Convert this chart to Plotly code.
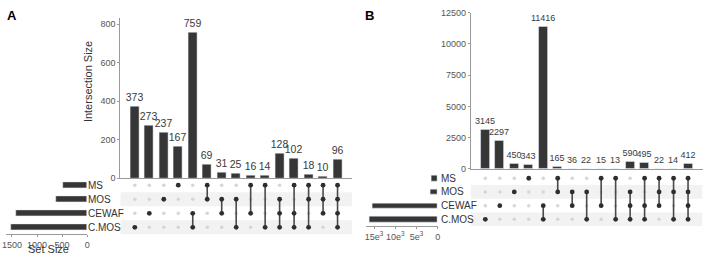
import plotly.graph_objects as go

W, H = 708, 262
FONT = "Liberation Sans, Arial, sans-serif"
DARK = "#363636"
GRID_BAND = "#f2f2f2"
AXC = "#9a9a9a"
TICKC = "#555555"

# ---------------- data ----------------
set_names = ["MS", "MOS", "CEWAF", "C.MOS"]          # top -> bottom in the matrix

members_A = [["C.MOS"], ["CEWAF"], ["MOS"], ["MS"],
             ["CEWAF", "C.MOS"], ["MS", "MOS"], ["MOS", "CEWAF"], ["MOS", "C.MOS"],
             ["MS", "CEWAF"], ["MS", "C.MOS"],
             ["MOS", "CEWAF", "C.MOS"], ["MS", "CEWAF", "C.MOS"], ["MS", "MOS", "C.MOS"],
             ["MS", "MOS", "CEWAF"], ["MS", "MOS", "CEWAF", "C.MOS"]]
sizes_A = [373, 273, 237, 167, 759, 69, 31, 25, 16, 14, 128, 102, 18, 10, 96]
set_size_A = [492, 614, 1415, 1515]
ticks_A_bar = [0, 200, 400, 600, 800]
ticks_A_set = [0, 500, 1000, 1500]
ticklabels_A_set = ["0", "500", "1000", "1500"]

members_B = [["C.MOS"], ["CEWAF"], ["MOS"], ["MS"],
             ["CEWAF", "C.MOS"], ["MS", "MOS"], ["MOS", "CEWAF"], ["MOS", "C.MOS"],
             ["MS", "CEWAF"], ["MS", "C.MOS"],
             ["MOS", "CEWAF", "C.MOS"], ["MS", "CEWAF", "C.MOS"], ["MS", "MOS", "CEWAF"],
             ["MS", "MOS", "C.MOS"], ["MS", "MOS", "CEWAF", "C.MOS"]]
sizes_B = [3145, 2297, 450, 343, 11416, 165, 36, 22, 15, 13, 590, 495, 22, 14, 412]
set_size_B = [1479, 1711, 15283, 16107]
ticks_B_bar = [0, 2500, 5000, 7500, 10000, 12500]
ticks_B_set = [0, 5000, 10000, 15000]
ticklabels_B_set = ["0", "5e<sup>3</sup>", "10e<sup>3</sup>", "15e<sup>3</sup>"]


def px_x(p):
    return p / W


def px_y(p):
    return 1 - p / H


row_of = {n: 3 - i for i, n in enumerate(set_names)}   # MS -> 3 (top), C.MOS -> 0

fig = go.Figure()
shapes = []
annotations = []


def add_panel(members, sizes, set_sizes, xa, ya, ym, xs, label_x, bar_font, tsize):
    n = len(sizes)
    cols = list(range(n))
    fig.add_trace(go.Bar(
        x=cols, y=sizes, xaxis=xa, yaxis=ya, marker_color=DARK, width=0.62,
        text=[str(v) for v in sizes], textposition="outside", cliponaxis=False,
        textfont=dict(size=bar_font, color="#3a3a3a", family=FONT),
        constraintext="none", showlegend=False, hoverinfo="skip"))
    # shaded bands
    for name in ["MOS", "C.MOS"]:
        r = row_of[name]
        shapes.append(dict(type="rect", xref=xa, yref=ym, x0=-1, x1=n, y0=r - 0.5, y1=r + 0.5,
                           fillcolor=GRID_BAND, line_width=0, layer="below"))
    # light dots
    lx, ly, dx, dy = [], [], [], []
    for c, mem in enumerate(members):
        for name in set_names:
            if name in mem:
                dx.append(c); dy.append(row_of[name])
            else:
                lx.append(c); ly.append(row_of[name])
    fig.add_trace(go.Scatter(x=lx, y=ly, xaxis=xa, yaxis=ym, mode="markers",
                             marker=dict(size=3.5, color="#d6d6d6"), showlegend=False, hoverinfo="skip"))
    # connecting lines
    linx, liny = [], []
    for c, mem in enumerate(members):
        if len(mem) > 1:
            rs = [row_of[m] for m in mem]
            linx += [c, c, None]
            liny += [min(rs), max(rs), None]
    fig.add_trace(go.Scatter(x=linx, y=liny, xaxis=xa, yaxis=ym, mode="lines",
                             line=dict(color="#4a4a4a", width=1.6), showlegend=False, hoverinfo="skip"))
    fig.add_trace(go.Scatter(x=dx, y=dy, xaxis=xa, yaxis=ym, mode="markers",
                             marker=dict(size=4.8, color="#2e2e2e"), showlegend=False, hoverinfo="skip"))
    # set size bars
    fig.add_trace(go.Bar(x=set_sizes, y=[row_of[nm] for nm in set_names], orientation="h",
                         xaxis=xs, yaxis=ym, marker_color=DARK, width=0.4,
                         showlegend=False, hoverinfo="skip"))
    for nm in set_names:
        annotations.append(dict(x=px_x(label_x), xref="paper", y=row_of[nm], yref=ym,
                                text=nm, showarrow=False, xanchor="left", yanchor="middle",
                                font=dict(size=tsize, color="#333333", family=FONT)))


add_panel(members_A, sizes_A, set_size_A, "x", "y", "y2", "x3", 82.5, 10.5, 10)
add_panel(members_B, sizes_B, set_size_B, "x2", "y3", "y4", "x4", 439.5, 9, 10)

tickfont = dict(size=9, color=TICKC, family=FONT)
layout = dict(
    width=W, height=H, margin=dict(l=0, r=0, t=0, b=0),
    paper_bgcolor="white", plot_bgcolor="rgba(0,0,0,0)",
    font=dict(family=FONT), bargap=0,
    # ---- panel A ----
    xaxis=dict(domain=[px_x(117.5), px_x(351.5)], range=[-1, 15], anchor="y",
               showline=True, linecolor=AXC, linewidth=1, showticklabels=False,
               ticks="", showgrid=False, zeroline=False),
    yaxis=dict(domain=[px_y(180), px_y(14)], range=[0, 830], anchor="x",
               showline=True, linecolor=AXC, linewidth=1, tickvals=ticks_A_bar,
               ticktext=[str(v) for v in ticks_A_bar],
               ticks="outside", ticklen=2, tickcolor=AXC, tickfont=tickfont,
               showgrid=False, zeroline=False),
    yaxis2=dict(domain=[px_y(238.5), px_y(180)], range=[-0.5, 3.5], anchor="x",
                visible=False),
    xaxis3=dict(domain=[px_x(2), px_x(84)], range=[1620, 0], anchor="y2",
                showline=True, linecolor=AXC, linewidth=1, tickvals=ticks_A_set,
                ticktext=ticklabels_A_set, ticks="outside", ticklen=2, tickcolor=AXC,
                tickangle=0,
                tickfont=dict(size=9, color=TICKC, family=FONT), showgrid=False, zeroline=False),
    # ---- panel B ----
    xaxis2=dict(domain=[px_x(471.5), px_x(705.5)], range=[-1, 15], anchor="y3",
                showline=True, linecolor=AXC, linewidth=1, showticklabels=False,
                ticks="", showgrid=False, zeroline=False),
    yaxis3=dict(domain=[px_y(170.5), px_y(8)], range=[0, 12500], anchor="x2",
                showline=True, linecolor=AXC, linewidth=1, tickvals=ticks_B_bar,
                ticktext=[str(v) for v in ticks_B_bar],
                ticks="outside", ticklen=2, tickcolor=AXC, tickfont=tickfont,
                showgrid=False, zeroline=False),
    yaxis4=dict(domain=[px_y(230), px_y(173)], range=[-0.5, 3.5], anchor="x2",
                visible=False),
    xaxis4=dict(domain=[px_x(366), px_x(438)], range=[16800, 0], anchor="y4",
                showline=True, linecolor=AXC, linewidth=1, tickvals=ticks_B_set,
                ticktext=ticklabels_B_set, ticks="outside", ticklen=2, tickcolor=AXC,
                tickangle=0,
                tickfont=dict(size=9, color=TICKC, family=FONT), showgrid=False, zeroline=False),
)

annotations += [
    dict(x=px_x(1), y=px_y(1), xref="paper", yref="paper", text="<b>A</b>", showarrow=False,
         xanchor="left", yanchor="top", font=dict(size=13, color="black", family=FONT)),
    dict(x=px_x(363), y=px_y(1), xref="paper", yref="paper", text="<b>B</b>", showarrow=False,
         xanchor="left", yanchor="top", font=dict(size=13, color="black", family=FONT)),
    dict(x=px_x(85), y=px_y(80), xref="paper", yref="paper", text="Intersection Size",
         showarrow=False, textangle=-90, xanchor="center", yanchor="middle",
         font=dict(size=11, color="#333333", family=FONT)),
    dict(x=px_x(45), y=px_y(262), xref="paper", yref="paper", text="Set Size",
         showarrow=False, xanchor="center", yanchor="bottom",
         font=dict(size=11, color="#333333", family=FONT)),
]
layout["shapes"] = shapes
layout["annotations"] = annotations
fig.update_layout(**layout)
fig.write_html("out.html", config={"displayModeBar": False},
               post_script="document.body.style.margin='0';document.body.style.padding='0';"
                           "document.body.style.overflow='hidden';")
